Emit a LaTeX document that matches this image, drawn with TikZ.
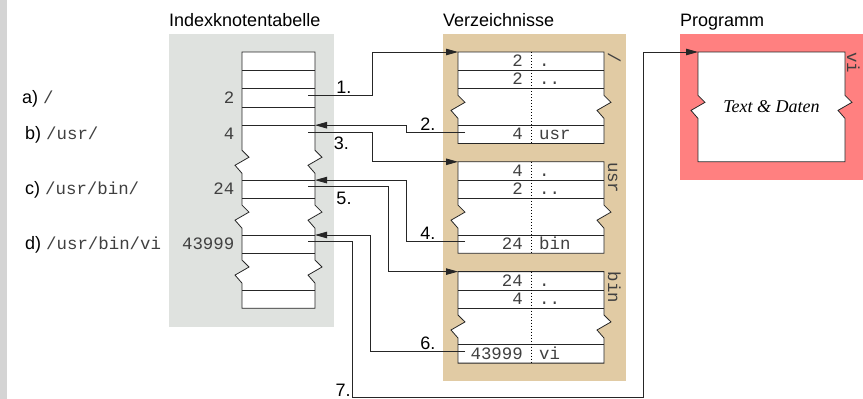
\documentclass[tikz,border=0pt]{standalone}
\usepackage{fontspec}
\setmainfont{Liberation Sans}
\setmonofont{Liberation Mono}
\newfontfamily\timesfont{Liberation Serif}
\usetikzlibrary{arrows.meta}

\definecolor{barbg}{HTML}{D4D4D4}
\definecolor{inodebg}{HTML}{DFE2DF}
\definecolor{dirbg}{HTML}{E1CBA4}
\definecolor{progbg}{HTML}{FF8080}

\newcommand\pathtxt[1]{{\fontsize{17.4}{20}\selectfont\ttfamily\color{black!75}#1}}

\begin{document}
\begin{tikzpicture}[
    x=1pt,y=-18.3pt,
    title/.style={font=\fontsize{18}{21}\selectfont,anchor=base west,inner sep=0pt},
    lbl/.style={font=\fontsize{18}{21}\selectfont,inner sep=1.5pt},
    mono/.style={font=\fontsize{17.4}{20}\selectfont\ttfamily,text=black!75,inner sep=0pt},
    side/.style={mono,rotate=-90,anchor=base west},
    box/.style={draw=black!85,fill=white,line width=0.8pt},
    sep/.style={draw=black!85,line width=0.8pt},
    arr/.style={-{Triangle[length=12pt,width=6.5pt]},line width=0.8pt,draw=black!85},
    zzdown/.style 2 args={insert path={-- (#1,#2-0.63) -- (#1+7,#2-0.25)
                          -- (#1-7,#2+0.19) -- (#1,#2+0.63)}},
    zzup/.style 2 args={insert path={-- (#1,#2+0.63) -- (#1-7,#2+0.19)
                        -- (#1+7,#2-0.25) -- (#1,#2-0.63)}},
]

% ---- Backgrounds -----------------------------------------------------------
\useasboundingbox (0,-2.8415) rectangle (863,18.9617);
\fill[barbg]   (0,-2.8415) rectangle (7,18.9617);
\fill[inodebg] (169,-1) rectangle (334,15);
\fill[dirbg]   (443,-1) rectangle (626,18);
\fill[progbg]  (680,-1) rectangle (863,7);

% ---- Titles ----------------------------------------------------------------
\node[title] (tInode) at (169,-1.38) {Indexknotentabelle};
\node[title] (tDir)   at (443,-1.38) {Verzeichnisse};
\node[title] (tProg)  at (680,-1.38) {Programm};

% ---- Inode table -----------------------------------------------------------
\path[box] (242,0) -- (315,0) [zzdown={315}{6}] [zzdown={315}{9}] [zzdown={315}{12}]
    -- (315,14) -- (242,14) [zzup={242}{12}] [zzup={242}{9}] [zzup={242}{6}] -- cycle;
\foreach \k in {1,2,3,4,7,8,10,11,13}
    \draw[sep] (242,\k) -- (315,\k);

\foreach \k/\n in {2/2, 4/4, 7/24, 10/43999}
    \node[mono,anchor=base east] (in\n) at (234.5,\k+0.8) {\n};

% path names
\node[lbl,anchor=base west,inner sep=0pt] (pa) at (22,2.8)  {a) \pathtxt{/}};
\node[lbl,anchor=base west,inner sep=0pt] (pb) at (25,4.8)  {b) \pathtxt{/usr/}};
\node[lbl,anchor=base west,inner sep=0pt] (pc) at (25,7.8)  {c) \pathtxt{/usr/bin/}};
\node[lbl,anchor=base west,inner sep=0pt] (pd) at (25,10.8) {d) \pathtxt{/usr/bin/vi}};

% ---- Directories -----------------------------------------------------------
\foreach \t in {0,6,12} {
    \path[box] (458,\t) -- (604,\t) [zzdown={604}{\t+3}] -- (604,\t+5)
        -- (458,\t+5) [zzup={458}{\t+3}] -- cycle;
    \foreach \d in {1,2,4}
        \draw[sep] (458,\t+\d) -- (604,\t+\d);
    \draw[line width=0.8pt,dash pattern=on 0.8pt off 2.2pt] (531,\t) -- (531,\t+5);
}

\foreach \k/\n/\f [count=\i] in {0/2/., 1/2/.., 4/4/usr,
                                 6/4/., 7/2/.., 10/24/bin,
                                 12/24/., 13/4/.., 16/43999/vi} {
    \node[mono,anchor=base east] (dn\i) at (523,\k+0.8) {\n};
    \node[mono,anchor=base west] (df\i) at (539,\k+0.8) {\f};
}

\node[side] (sRoot) at (608,0)  {/};
\node[side] (sUsr)  at (608,6)  {usr};
\node[side] (sBin)  at (608,12) {bin};

% ---- Program ---------------------------------------------------------------
\path[box] (698,0) -- (845,0) [zzdown={845}{3}] -- (845,6) -- (698,6)
    [zzup={698}{3}] -- cycle;
\node[font=\fontsize{18}{21}\selectfont\timesfont\itshape] (td) at (771.5,3) {Text \& Daten};
\node[side] (sVi) at (847,0) {vi};

% ---- Connector ends --------------------------------------------------------
\coordinate (i2)     at (308,2.37);
\coordinate (i4)     at (308,4.37);
\coordinate (i24)    at (308,7.37);
\coordinate (i43999) at (308,10.37);
\coordinate (t4)     at (315,4);
\coordinate (t24)    at (315,7);
\coordinate (t43999) at (315,10);
\coordinate (dRoot)  at (458,0);
\coordinate (dUsr)   at (458,6);
\coordinate (dBin)   at (458,12);
\coordinate (eUsr)   at (465,4.37);
\coordinate (eBin)   at (465,10.37);
\coordinate (eVi)    at (465,16.37);
\coordinate (pText)  at (698,0);
\coordinate (c7a)    at (352,18.9);
\coordinate (c7b)    at (643,18.9);

% ---- Arrows ----------------------------------------------------------------
\draw[arr] (i2) -- ++(64,0) node[lbl,pos=.56,above] {1.} |- (dRoot);
\draw[arr] (eUsr) -- ++(-59,0) node[lbl,pos=.63,above] {2.} |- (t4);
\draw[arr] (i4) -- ++(64,0) node[lbl,pos=.52,below,yshift=-3pt] {3.} |- (dUsr);
\draw[arr] (eBin) -- ++(-59,0) node[lbl,pos=.63,above] {4.} |- (t24);
\draw[arr] (i24) -- ++(80,0) node[lbl,pos=.45,below,yshift=-3pt] {5.} |- (dBin);
\draw[arr] (eVi) -- ++(-95,0) node[lbl,pos=.39,above] {6.} |- (t43999);
\draw[arr] (i43999) -| (c7a) node[lbl,above left,inner sep=1pt] {7.}
    -- (c7b) |- (pText);

\end{tikzpicture}
\end{document}
